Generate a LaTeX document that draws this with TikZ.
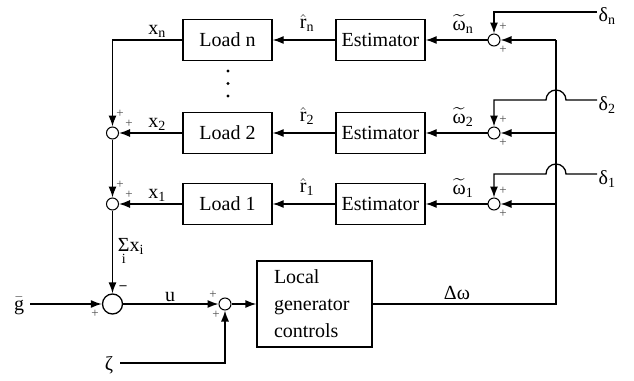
\RequirePackage{fix-cm}
\documentclass[tikz,border=0pt]{standalone}
\usepackage{amsmath}
\usepackage{fontspec}
\setmainfont{Liberation Serif}
\usetikzlibrary{arrows.meta}
\begin{document}
\begin{tikzpicture}[x=1pt,y=-1pt,
  >={Latex[length=11pt,width=8pt]},
  line width=1.3pt,
  font=\fontsize{20}{24}\selectfont,
  blk/.style={draw, minimum width=89pt, minimum height=41pt, inner sep=0pt},
  sm/.style={draw, circle, minimum size=12pt, inner sep=0pt, line width=1pt},
  big/.style={draw, circle, minimum size=20pt, inner sep=0pt, line width=1.3pt},
  lbl/.style={inner sep=0pt},
  pl/.style={inner sep=0pt, font=\fontsize{13}{13}\selectfont, text=black!70},
  dotm/.style={fill=black, circle, inner sep=0pt, minimum size=3.4pt}]
\useasboundingbox (0,0) rectangle (634,380);

% blocks
\node[blk] (Ln) at (227.5,40) {Load n};
\node[blk] (L2) at (227.5,133) {Load 2};
\node[blk] (L1) at (227.5,204) {Load 1};
\node[blk] (En) at (380.5,40) {Estimator};
\node[blk] (E2) at (380.5,133) {Estimator};
\node[blk] (E1) at (380.5,204) {Estimator};
\node[draw, minimum width=115pt, minimum height=86pt, inner sep=0pt,
      text width=81pt, align=left, font=\fontsize{20}{27}\selectfont]
      (G) at (314.5,304) {Local\\generator\\controls};

% summing junctions
\node[sm] (Sn) at (494,40) {};
\node[sm] (S2) at (494,133) {};
\node[sm] (S1) at (494,204) {};
\node[sm] (C2) at (112.5,133) {};
\node[sm] (C1) at (112.5,204) {};
\node[big] (B) at (112.5,304) {};
\node[sm] (D) at (225,304) {};

% dots
\node[dotm] (d1) at (228,71) {};
\node[dotm] (d2) at (228,83.5) {};
\node[dotm] (d3) at (228,96) {};

% junction coordinates
\coordinate (J) at (556,304);
\coordinate (Jn) at (556,40);
\coordinate (J2) at (556,133);
\coordinate (J1) at (556,204);
\coordinate (dn0) at (597,12);
\coordinate (d20) at (597,100);
\coordinate (d10) at (597,174);
\coordinate (g0) at (30,304);
\coordinate (z0) at (120,363);

% text labels
\node[lbl] (gl) at (19,306) {$\bar{\text{g}}$};
\node[lbl] (zl) at (109,365) {ζ};
\node[lbl, anchor=base west] (dnl) at (598,21) {δ$_\text{n}$};
\node[lbl, anchor=base west] (d2l) at (598,110) {δ$_\text{2}$};
\node[lbl, anchor=base west] (d1l) at (598,184) {δ$_\text{1}$};
\node[lbl] (xnl) at (157,31) {x$_\text{n}$};
\node[lbl] (x2l) at (157,124) {x$_\text{2}$};
\node[lbl] (x1l) at (157,195) {x$_\text{1}$};
\node[lbl] (fnl) at (307,23) {$\hat{\text{r}}_\text{n}$};
\node[lbl] (f2l) at (307,116) {$\hat{\text{r}}_\text{2}$};
\node[lbl] (f1l) at (307,187) {$\hat{\text{r}}_\text{1}$};
\node[lbl] (wnl) at (463,24) {$\widetilde{\text{ω}}_\text{n}$};
\node[lbl] (w2l) at (463,117) {$\widetilde{\text{ω}}_\text{2}$};
\node[lbl] (w1l) at (463,188) {$\widetilde{\text{ω}}_\text{1}$};
\node[lbl] (sxl) at (131,252) {$\mathop{\text{Σ}}\limits_{\text{i}}\!\text{x}_\text{i}$};
\node[lbl] (ul) at (170,297) {u};
\node[lbl] (dwl) at (457,293) {Δω};

% signs
\node[pl] at (503,27) {+};
\node[pl] at (503,50) {+};
\node[pl] at (503,120) {+};
\node[pl] at (503,143) {+};
\node[pl] at (503,191) {+};
\node[pl] at (503,214) {+};
\node[pl] at (120,114) {+};
\node[pl] at (129,124) {+};
\node[pl] at (120,185) {+};
\node[pl] at (129,195) {+};
\node[pl] at (95,314) {+};
\node[pl] at (213,295) {+};
\node[pl] at (216,315) {+};
\node[inner sep=0pt, font=\fontsize{14}{14}\selectfont\bfseries] at (123,288) {\textendash};

% connectors: left side
\draw[->] (Ln.west) -| (C2.north);
\draw[->] (L2.west) -- (C2.east);
\draw[->] (C2.south) -- (C1.north);
\draw[->] (L1.west) -- (C1.east);
\draw[->] (C1.south) -- (B.north);
\draw[->] (g0) -- (B.west);
\draw[->] (B.east) -- (D.west);
\draw[->] (D.east) -- (G.west);
\draw[->] (z0) -| (D.south);

% estimators to loads
\draw[->] (En.west) -- (Ln.east);
\draw[->] (E2.west) -- (L2.east);
\draw[->] (E1.west) -- (L1.east);
\draw[->] (Sn.west) -- (En.east);
\draw[->] (S2.west) -- (E2.east);
\draw[->] (S1.west) -- (E1.east);

% feedback
\draw (G.east) -- (J) -- (Jn);
\draw[->] (Jn) -- (Sn.east);
\draw[->] (J2) -- (S2.east);
\draw[->] (J1) -- (S1.east);

% noise inputs
\draw[->] (dn0) -| (Sn.north);
\draw[->] (d20) -- (566,100) arc[start angle=0, end angle=-180, radius=10] -| (S2.north);
\draw[->] (d10) -- (566,174) arc[start angle=0, end angle=-180, radius=10] -| (S1.north);
\end{tikzpicture}
\end{document}
